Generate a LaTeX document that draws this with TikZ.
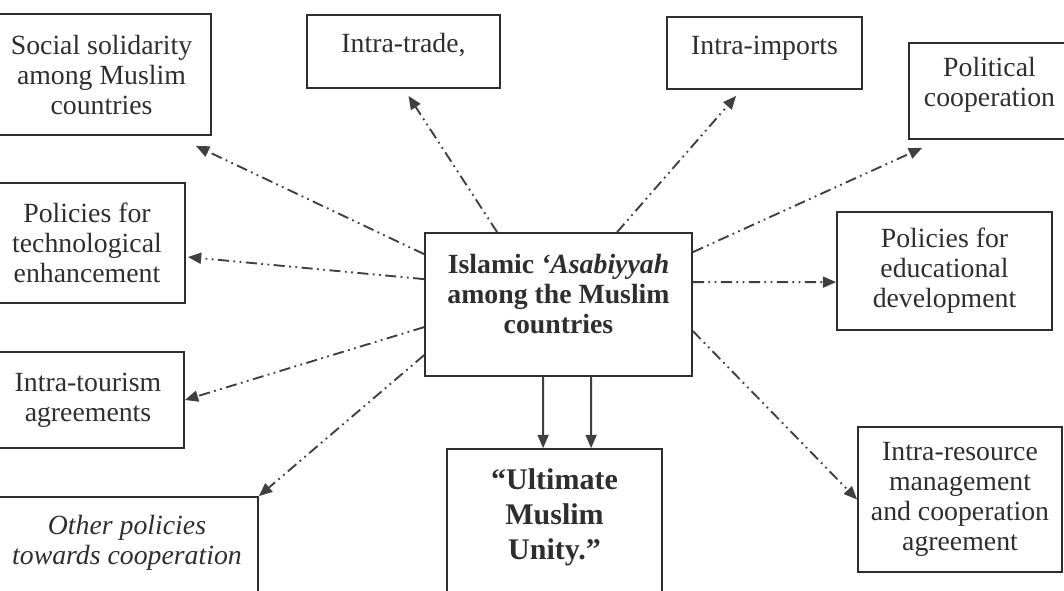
\documentclass[tikz,border=0pt]{standalone}
\usepackage{fontspec}
\setmainfont{Liberation Serif}
\usetikzlibrary{arrows.meta,calc}
\definecolor{ink}{HTML}{2e2e2e}
\definecolor{ray}{HTML}{404040}

\begin{document}
\begin{tikzpicture}[x=0.45pt,y=-0.45pt,
    box/.style={draw=ink,line width=0.8pt,text=ink,align=center,inner sep=2pt,
      font=\fontsize{12.5}{13.5}\selectfont},
    flow/.style={draw=ray,line width=0.85pt,
      dash pattern=on 5pt off 2pt on 0.8pt off 2pt on 0.8pt off 2pt,
      -{Triangle[length=6pt,width=5pt]}},
    main/.style={draw=ray,line width=0.8pt,-{Triangle[length=6pt,width=5pt]}}]

	\useasboundingbox (0,0) rectangle (1064,590);

	% Top row
	\node[box,minimum width=98.55pt,minimum height=54.45pt] (soc) at (101.5,74.5) {Social solidarity\\among Muslim\\countries};
	\node[box,minimum width=86.85pt,minimum height=32.85pt,text depth=8pt] (trade) at (403.5,51.5) {Intra-trade,};
	\node[box,minimum width=87.75pt,minimum height=32.4pt,text depth=7pt] (imp) at (764.5,53) {Intra-imports};
	\node[box,minimum width=72.45pt,minimum height=43.2pt,text depth=8pt] (pol) at (989.5,91) {Political\\cooperation};

	% Left column
	\node[box,minimum width=88.2pt,minimum height=54pt] (tech) at (87,243) {Policies for\\technological\\enhancement};
	\node[box,minimum width=86.4pt,minimum height=43.2pt] (tour) at (88,400) {Intra-tourism\\agreements};
	\node[box,minimum width=117.9pt,minimum height=50.85pt,text depth=12pt,font=\fontsize{12.5}{13.5}\selectfont\itshape] (oth) at (127,553.5) {Other policies\\towards cooperation};

	% Centre
	\node[box,minimum width=120.15pt,minimum height=64.35pt,text depth=10pt,font=\fontsize{12.5}{13.5}\selectfont\bfseries] (isl) at (558.5,304.5) {Islamic \textit{`Asabiyyah}\\among the Muslim\\countries};
	\node[box,minimum width=96.75pt,minimum height=72.45pt,text depth=14pt,font=\fontsize{13.5}{15.75}\selectfont\bfseries] (ult) at (554.5,529.5) {“Ultimate\\Muslim\\Unity.”};

	% Right column
	\node[box,minimum width=96.75pt,minimum height=53.1pt] (edu) at (944.5,271) {Policies for\\educational\\development};
	\node[box,minimum width=91.8pt,minimum height=65.25pt] (res) at (960,499.5) {Intra-resource\\management\\and cooperation\\agreement};

	% Dash-dot arrows
	\draw[flow] ($(isl.north west)+(0,22)$) -- ($(soc.south east)+(-16,10)$);
	\draw[flow] ($(isl.north west)+(73,0)$) -- ($(trade.south)+(5,7)$);
	\draw[flow] ($(isl.north west)+(193,0)$) -- ($(imp.south west)+(70,6)$);
	\draw[flow] ($(isl.north east)+(0,20)$) -- ($(pol.south west)+(14,8)$);
	\draw[flow] ($(isl.north west)+(0,47)$) -- ($(tech.east)+(2,14)$);
	\draw[flow] ($(isl.north east)+(0,50)$) -- ($(edu.north west)+(0,71)$);
	\draw[flow] ($(isl.north west)+(0,95)$) -- (tour.east);
	\draw[flow] ($(isl.north west)+(0,123)$) -- (oth.north east);
	\draw[flow] ($(isl.north east)+(0,99)$) -- (res.west);

	% Solid arrows to unity
	\draw[main] ($(isl.south west)+(119,0)$) -- ($(ult.north west)+(97,0)$);
	\draw[main] ($(isl.south west)+(167,0)$) -- ($(ult.north west)+(145,0)$);
\end{tikzpicture}
\end{document}
